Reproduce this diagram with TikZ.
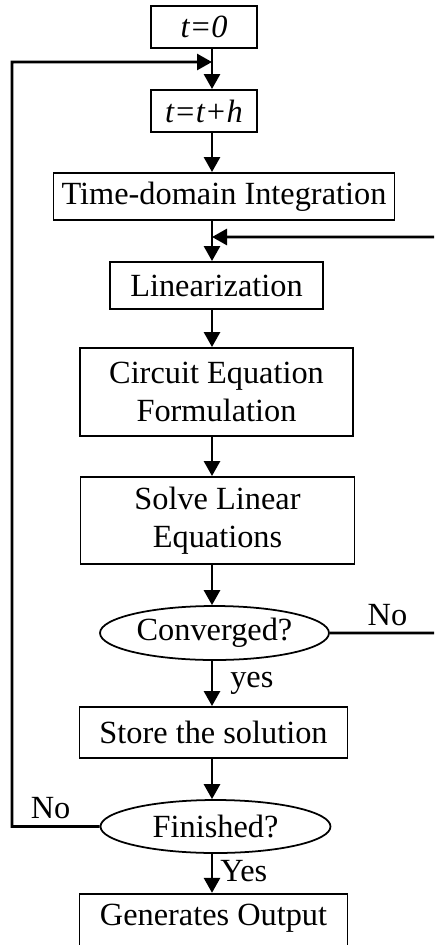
\documentclass[tikz,border=0pt]{standalone}
\usepackage{fontspec}
\setmainfont{Liberation Serif}
\usetikzlibrary{shapes.geometric,arrows.meta}

\begin{document}
\begin{tikzpicture}[node distance=2cm]
    % fixed frame, the return loop on the right runs outside of it
    \useasboundingbox (0,0) rectangle (8.68,-18.9);
    \clip (0,0) rectangle (8.68,-18.9);

    \tikzstyle{box} = [rectangle, text centered, align=center, inner sep=0pt, draw=black, line width=1.1pt, font=\fontsize{18.4}{21.5}\selectfont]
    \tikzstyle{decision} = [ellipse, text centered, inner sep=0pt, draw=black, line width=1pt, font=\fontsize{18.4}{21.5}\selectfont]
    \tikzstyle{tag} = [font=\fontsize{18.4}{21.5}\selectfont]
    \tikzstyle{wire} = [line width=1.6pt]
    \tikzstyle{arrow} = [line width=1.6pt, -{Triangle[length=0.3cm, width=0.32cm]}]

            % node[Optionen](Name){Inhalt}
            \node (Start) [box, minimum width=2.12cm, minimum height=0.84cm] at (4.08,-0.54) {\textit{t=0}};
            \node (Step) [box, minimum width=2.12cm, minimum height=0.84cm, below of=Start, yshift=0.32cm] {\textit{t=t+h}};
            \node (Integration) [box, minimum width=6.82cm, minimum height=0.94cm, below of=Step, xshift=0.4cm, yshift=0.29cm] {Time-domain Integration};
            \node (Linearization) [box, minimum width=4.26cm, minimum height=0.94cm, below of=Integration, xshift=-0.15cm, yshift=0.22cm] {Linearization};
            \node (Formulation) [box, minimum width=5.46cm, minimum height=1.76cm, below of=Linearization, yshift=-0.13cm] {Circuit Equation\\Formulation};
            \node (Solve) [box, minimum width=5.48cm, minimum height=1.74cm, below of=Formulation, xshift=0.02cm, yshift=-0.57cm] {Solve Linear\\Equations};
            \node (Converged) [decision, minimum width=4.58cm, minimum height=1.08cm, below of=Solve, xshift=-0.06cm, yshift=-0.25cm] {Converged?};
            \node (Store) [box, minimum width=5.36cm, minimum height=1.02cm, below of=Converged, xshift=-0.02cm, yshift=0.01cm] {Store the solution};
            \node (Finished) [decision, minimum width=4.6cm, minimum height=1.06cm, below of=Store, xshift=0.04cm, yshift=0.12cm] {Finished?};
            % the last box runs past the lower edge
            \node (Output) [box, minimum width=5.36cm, inner ysep=0.2cm, text depth=0.9cm, below of=Finished, xshift=-0.04cm, yshift=-0.21cm] {Generates Output};

            % junctions on the main line and loop corners
            \coordinate (Join1) at (4.24,-1.24);
            \coordinate (Join2) at (4.24,-4.74);
            \coordinate (LeftCorner) at (0.24,-16.53);
            \coordinate (RightCorner1) at (8.9,-12.66);
            \coordinate (RightCorner2) at (8.9,-4.74);

            % ----- ----- ----- ----- ----- ----- ----- ----- ----- -----

            \draw [arrow] (Start.south -| Join1) -- (Step.north -| Join1);
            \draw [arrow] (Step.south -| Join1) -- (Integration.north -| Join1);
            \draw [arrow] (Integration.south -| Join2) -- (Linearization.north -| Join2);
            \draw [arrow] (Linearization.south -| Join2) -- (Formulation.north -| Join2);
            \draw [arrow] (Formulation.south -| Join2) -- (Solve.north -| Join2);
            \draw [arrow] (Solve.south -| Join2) -- (Converged.north -| Join2);
            \draw [arrow] (Converged.south -| Join2) -- node[tag, anchor=west, xshift=0.22cm] {yes} (Store.north -| Join2);
            \draw [arrow] (Store.south -| Join2) -- (Finished.north -| Join2);
            \draw [arrow] (Finished.south -| Join2) -- node[tag, anchor=west, xshift=0.02cm, yshift=0.05cm] {Yes} (Output.north -| Join2);
            \draw [arrow] (Finished.west) -- node[tag, above, pos=0.56, inner sep=0.12cm] {No} (LeftCorner) |- (Join1);
            \draw [arrow] (Converged.east) -- node[tag, above, pos=0.5] {No} (RightCorner1) -- (RightCorner2) -- (Join2);
\end{tikzpicture}
\end{document}
